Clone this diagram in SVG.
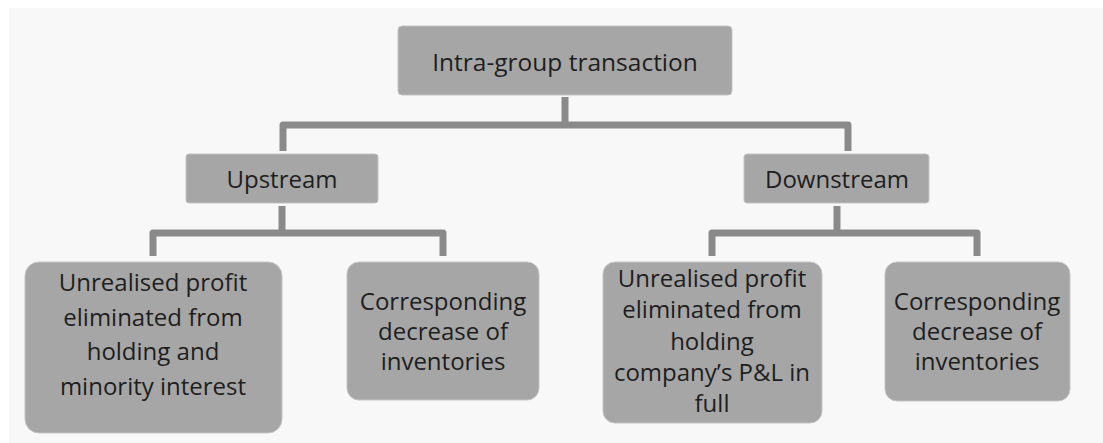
<svg xmlns="http://www.w3.org/2000/svg" width="1103" height="443" viewBox="0 0 1103 443">
  <style>
    .box { fill: #a6a6a6; stroke: #c4c4c4; stroke-width: 1; }
    .lbl { font-family: "Open Sans", "Noto Sans", "Liberation Sans", sans-serif; font-size: 24px; fill: #1e1e1e; text-anchor: middle; }
    .conn { fill: none; stroke: #8a8a8a; stroke-width: 7; stroke-linejoin: round; }
  </style>
  <rect x="0" y="0" width="1103" height="443" fill="#ffffff"/>
  <rect x="9" y="8" width="1094" height="435" fill="#f8f8f8"/>

  <g id="connectors">
    <path class="conn" d="M565 97 V125 M283 151 V125 H848 V151"/>
    <path class="conn" d="M282 206 V233 M153 256 V233 H443 V256"/>
    <path class="conn" d="M837 206 V233 M712 256 V233 H977 V256"/>
  </g>

  <g id="intra-group">
    <rect class="box" x="398" y="26" width="334" height="69" rx="4"/>
    <text class="lbl" x="565" y="71" style="font-size:24.5px">Intra-group transaction</text>
  </g>

  <g id="upstream">
    <rect class="box" x="186" y="154" width="192" height="49" rx="3"/>
    <text class="lbl" x="282" y="188">Upstream</text>
  </g>

  <g id="downstream">
    <rect class="box" x="744" y="154" width="185" height="49" rx="3"/>
    <text class="lbl" x="837" y="188">Downstream</text>
  </g>

  <g id="upstream-profit">
    <rect class="box" x="25" y="262" width="257" height="171" rx="14"/>
    <text class="lbl" x="153" y="291">Unrealised profit</text>
    <text class="lbl" x="153" y="326">eliminated from</text>
    <text class="lbl" x="153" y="360">holding and</text>
    <text class="lbl" x="153" y="395">minority interest</text>
  </g>

  <g id="upstream-inventories">
    <rect class="box" x="347" y="262" width="192" height="138" rx="12"/>
    <text class="lbl" x="443" y="310">Corresponding</text>
    <text class="lbl" x="443" y="340">decrease of</text>
    <text class="lbl" x="443" y="370">inventories</text>
  </g>

  <g id="downstream-profit">
    <rect class="box" x="603" y="262" width="219" height="161" rx="12"/>
    <text class="lbl" x="712" y="287">Unrealised profit</text>
    <text class="lbl" x="712" y="318">eliminated from</text>
    <text class="lbl" x="712" y="350">holding</text>
    <text class="lbl" x="712" y="381">company’s P&amp;L in</text>
    <text class="lbl" x="712" y="412">full</text>
  </g>

  <g id="downstream-inventories">
    <rect class="box" x="885" y="262" width="185" height="139" rx="12"/>
    <text class="lbl" x="977" y="310">Corresponding</text>
    <text class="lbl" x="977" y="340">decrease of</text>
    <text class="lbl" x="977" y="370">inventories</text>
  </g>
</svg>
